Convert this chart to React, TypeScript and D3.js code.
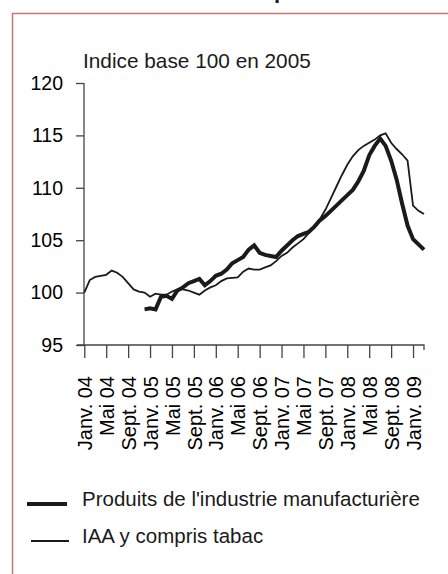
import * as d3 from "d3";
import { useEffect, useRef } from "react";

// monthly index, Jan 2004 (index 0) to Mar 2009 (index 62)
const tickLabels = [
  "Janv. 04", "Mai 04", "Sept. 04",
  "Janv. 05", "Mai 05", "Sept. 05",
  "Janv. 06", "Mai 06", "Sept. 06",
  "Janv. 07", "Mai 07", "Sept. 07",
  "Janv. 08", "Mai 08", "Sept. 08",
  "Janv. 09",
];

const yTicks = [95, 100, 105, 110, 115, 120];

// IAA y compris tabac (thin line)
const iaa = [
  100.0, 101.2, 101.5, 101.6, 101.7, 102.1, 101.9, 101.5, 100.9, 100.3, 100.1, 100.0,
  99.6, 99.9, 99.8, 99.8, 100.1, 100.3, 100.3, 100.2, 100.0, 99.8, 100.2, 100.5,
  100.7, 101.1, 101.35, 101.4, 101.45, 102.0, 102.3, 102.2, 102.2, 102.4, 102.6, 103.0,
  103.5, 103.8, 104.3, 104.7, 105.1, 105.7, 106.3, 107.0, 107.9, 109.0, 110.1, 111.2,
  112.2, 113.0, 113.6, 114.0, 114.3, 114.6, 115.0, 115.2, 114.3, 113.7, 113.2, 112.6,
  108.3, 107.8, 107.5,
];

// Produits de l'industrie manufacturière (thick line), starts Dec 2004
const manuf = [
  null, null, null, null, null, null, null, null, null, null, null, 98.4,
  98.5, 98.4, 99.6, 99.7, 99.4, 100.2, 100.5, 100.9, 101.1, 101.3, 100.7, 101.1,
  101.6, 101.8, 102.2, 102.8, 103.1, 103.4, 104.1, 104.5, 103.8, 103.6, 103.5, 103.4,
  104.0, 104.5, 105.0, 105.4, 105.6, 105.8, 106.3, 106.9, 107.3, 107.8, 108.3, 108.8,
  109.3, 109.8, 110.6, 111.6, 113.1, 114.0, 114.7, 114.0, 112.6, 110.8, 108.5, 106.4,
  105.1, 104.6, 104.1,
];

const legendLabels = ["Produits de l'industrie manufacturière", "IAA y compris tabac"];

const FONT = "'Liberation Sans', Arial, sans-serif";
const INK = "#1a1a1a";

export default function App() {
  const ref = useRef<SVGSVGElement>(null);

  useEffect(() => {
    const svg = d3.select(ref.current);
    svg.selectAll("*").remove();

    // pink frame of the figure
    svg.append("rect")
      .attr("x", 12.5).attr("y", 13.5)
      .attr("width", 460).attr("height", 600)
      .attr("fill", "none")
      .attr("stroke", "#d27272")
      .attr("stroke-width", 1.5);

    // fragment of the title above the frame
    svg.append("text")
      .attr("x", 274).attr("y", -2.5)
      .attr("font-family", FONT).attr("font-weight", "bold")
      .attr("font-size", 22).attr("fill", INK)
      .text("p");

    const x = d3.scaleLinear().domain([0, iaa.length - 1]).range([84.3, 424]);
    const y = d3.scaleLinear().domain([95, 120]).range([345, 83]);

    // unit label
    svg.append("text")
      .attr("x", 83).attr("y", 68)
      .attr("font-family", FONT).attr("font-size", 20.8).attr("fill", INK)
      .text("Indice base 100 en 2005");

    // y axis
    const yAxis = svg.append("g").attr("transform", "translate(84,0)")
      .call(d3.axisLeft(y).tickValues(yTicks).tickSize(8).tickPadding(13).tickFormat(d3.format("d")));
    yAxis.select(".domain").attr("stroke", "#444").attr("stroke-width", 1.3).attr("d", `M0,${y(120)}V${y(95)}`);
    yAxis.selectAll(".tick line").attr("stroke", "#444").attr("stroke-width", 1.3);
    yAxis.selectAll(".tick text")
      .attr("font-family", FONT).attr("font-size", 19.5).attr("fill", "#000");

    // x axis
    const tickIdx = tickLabels.map((_, i) => i * 4);
    const xAxis = svg.append("g").attr("transform", `translate(0,${y(95)})`)
      .call(d3.axisBottom(x).tickValues(tickIdx).tickSize(13).tickFormat((_, i) => tickLabels[i]));
    xAxis.select(".domain").attr("stroke", "#444").attr("stroke-width", 1.3)
      .attr("d", `M77,0H424V5`);
    xAxis.selectAll(".tick line").attr("stroke", "#444").attr("stroke-width", 1.3);
    xAxis.selectAll(".tick text")
      .attr("font-family", FONT).attr("font-size", 20).attr("fill", "#000")
      .attr("text-anchor", "end")
      .attr("transform", "rotate(-90)")
      .attr("x", -31).attr("y", 0).attr("dy", "0.36em");

    // lines
    const line = d3.line<number | null>()
      .defined((d) => d !== null)
      .x((_, i) => x(i))
      .y((d) => y(d as number));

    svg.append("path")
      .datum(iaa)
      .attr("d", line)
      .attr("fill", "none").attr("stroke", INK)
      .attr("stroke-width", 1.8).attr("stroke-linejoin", "miter");

    svg.append("path")
      .datum(manuf)
      .attr("d", line)
      .attr("fill", "none").attr("stroke", INK)
      .attr("stroke-width", 4).attr("stroke-linejoin", "miter");

    // legend
    const legend = svg.append("g");
    const rows = [
      { label: legendLabels[0], w: 4, y: 504, x1: 27, x2: 67, ty: 506 },
      { label: legendLabels[1], w: 1.8, y: 541, x1: 31, x2: 69, ty: 543 },
    ];
    rows.forEach((r) => {
      legend.append("line")
        .attr("x1", r.x1).attr("x2", r.x2).attr("y1", r.y).attr("y2", r.y)
        .attr("stroke", INK).attr("stroke-width", r.w);
      legend.append("text")
        .attr("x", 82).attr("y", r.ty)
        .attr("font-family", FONT).attr("font-size", 20.5).attr("fill", INK)
        .text(r.label);
    });
  }, []);

  return (
    <svg
      ref={ref}
      width={448}
      height={574}
      style={{ position: "absolute", left: 0, top: 0, background: "#fff" }}
    />
  );
}
